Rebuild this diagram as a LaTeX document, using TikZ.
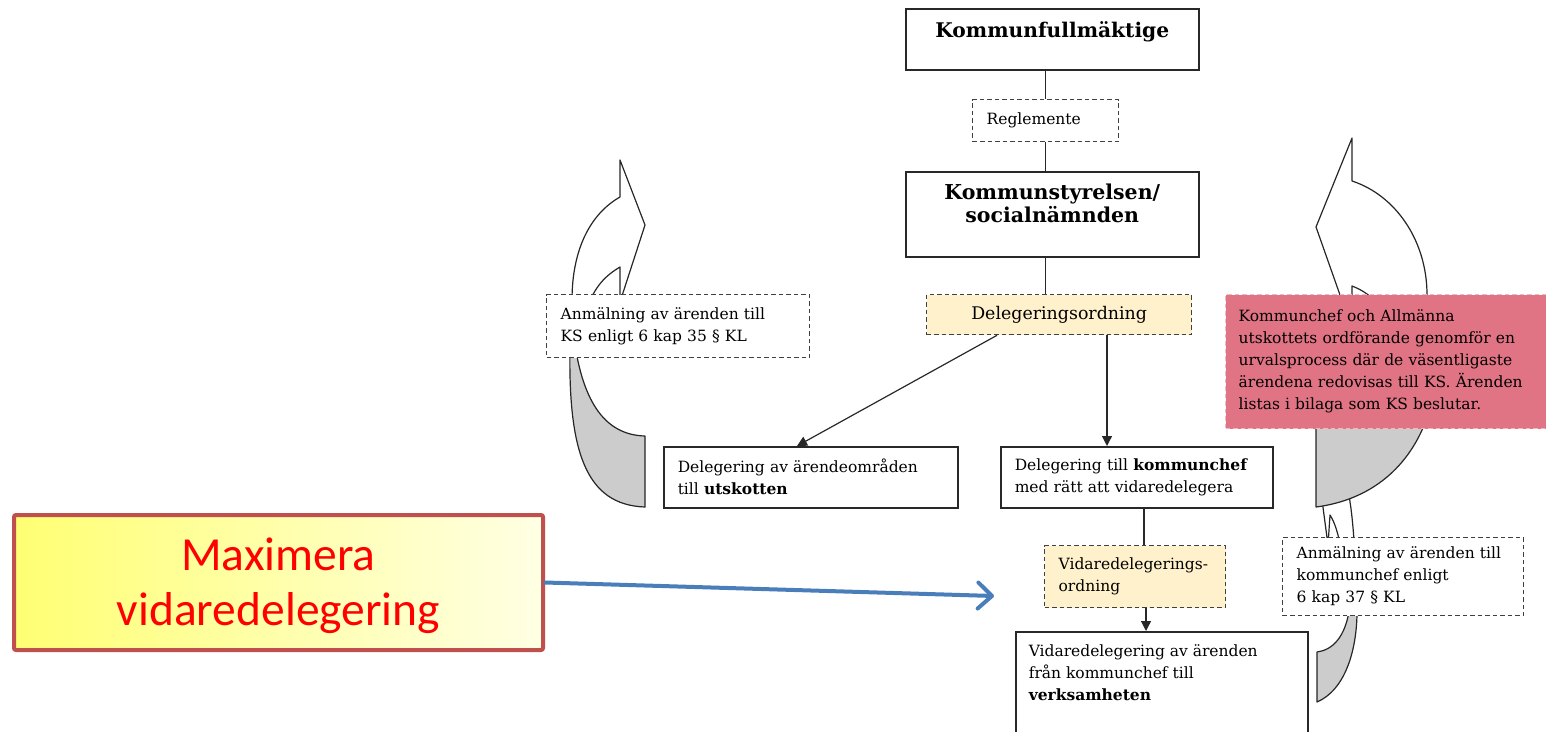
\documentclass[tikz,border=0pt]{standalone}
\usepackage{fontspec}
\setmainfont{DejaVu Serif}
\newfontfamily\calibfont{Carlito}
\usetikzlibrary{arrows.meta}

\definecolor{boxline}{RGB}{40,40,40}
\definecolor{ordfill}{RGB}{255,241,204}
\definecolor{pinkfill}{RGB}{224,116,132}
\definecolor{backgray}{RGB}{204,204,204}
\definecolor{arrowblue}{RGB}{74,126,187}
\definecolor{maxred}{RGB}{192,80,77}
\definecolor{maxyellow}{RGB}{255,255,115}
\definecolor{maxpale}{RGB}{255,255,228}

\begin{document}
\begin{tikzpicture}[x=1pt, y=-1pt,
	box/.style={draw=boxline, line width=1.5pt, fill=white, anchor=north west,
		font=\fontsize{15.5}{22}\selectfont, align=left, inner xsep=14pt, inner ysep=0pt},
	dashbox/.style={box, dashed, dash pattern=on 4.5pt off 3pt, draw=black!75, line width=1.3pt},
	ordbox/.style={dashbox, fill=ordfill},
	conn/.style={draw=boxline, line width=1.2pt},
	arr/.style={conn, -{Triangle[length=10pt,width=10pt]}},
	curl/.style={draw=black!85, line width=1.2pt, fill=white, line join=round},
	curlback/.style={curl, fill=backgray}
	]
	
	\useasboundingbox (0,0) rectangle (1546,731);
	\clip (0,0) rectangle (1546,731);
	
	% curved arrows behind the boxes
	\draw[curl] (1352,138) -- (1352,181) .. controls (1395,195) and (1427,240) .. (1427,295) -- (1427,340) -- (1395,340) .. controls (1385,310) and (1375,295) .. (1352,286) -- (1352,329) -- (1316,227) -- cycle;
	\draw[curl] (1345,460) -- (1350,502) .. controls (1353,520) and (1356,560) .. (1357,610) -- (1346,610) .. controls (1346,570) and (1340,530) .. (1330,515) -- (1328,545) -- (1318,470) -- cycle;
	\draw[curlback] (1316,415) -- (1316,507) .. controls (1370,500) and (1410,468) .. (1428,415) -- cycle;
	\draw[curlback] (1350,605) .. controls (1346,638) and (1332,650) .. (1317,652) -- (1317,702) .. controls (1345,690) and (1358,650) .. (1357,605) -- cycle;
	
	\draw[curl] (572,350) -- (572,300) .. controls (572,250) and (590,214) .. (620,197) -- (620,160) -- (645,225) -- (620,302) -- (620,267) .. controls (605,276) and (595,286) .. (586,310) -- (586,350) -- cycle;
	\draw[curlback] (570,345) .. controls (568,450) and (585,505) .. (645,507) -- (645,436) .. controls (610,435) and (585,410) .. (575,345) -- cycle;
	
	% boxes
	\node[box, inner xsep=0pt, inner ysep=13pt] (kf) at (905,8) {\parbox[c][35pt][t]{293pt}{\centering\fontsize{20.2}{23}\selectfont\bfseries Kommunfullmäktige}};
	\node[dashbox, text width=118pt, minimum height=42pt] (regl) at (972,99) {Reglemente};
	\node[box, inner xsep=0pt, inner ysep=12pt] (ks) at (905,171) {\parbox[c][61pt][t]{293pt}{\centering\fontsize{20.5}{23.5}\selectfont\bfseries Kommunstyrelsen/\\socialnämnden}};
	\node[ordbox, text width=237pt, minimum height=40pt, align=center, font=\fontsize{17.4}{22}\selectfont] (deleg) at (926,294) {Delegeringsordning};
	\node[dashbox, text width=235pt, minimum height=63pt] (anmks) at (546,294) {Anmälning av ärenden till\\KS enligt 6 kap 35 \S\ KL};
	\node[dashbox, fill=pinkfill, draw=pinkfill!50!white, text width=300pt, minimum height=134pt, inner xsep=13pt] (urval) at (1225,294) {Kommunchef och Allmänna\\utskottets ordförande genomför en\\urvalsprocess där de väsentligaste\\ärendena redovisas till KS. Ärenden\\listas i bilaga som KS beslutar.};
	\node[box, text width=266pt, minimum height=61pt] (utsk) at (663,446) {Delegering av ärendeområden\\till \textbf{utskotten}};
	\node[box, text width=244pt, minimum height=61pt] (kchef) at (1000,446) {Delegering till \textbf{kommunchef}\\med rätt att vidaredelegera};
	\node[ordbox, text width=153pt, minimum height=62pt] (vdo) at (1044,545) {Vidaredelegerings-\\ordning};
	\node[dashbox, text width=213pt, minimum height=78pt] (anmkc) at (1282,537) {Anmälning av ärenden till\\kommunchef enligt\\6 kap 37 \S\ KL};
	\node[box, inner xsep=13pt, inner ysep=13pt] (vid) at (1015,631) {\parbox[c][100pt][t]{266pt}{Vidaredelegering av ärenden\\från kommunchef till\\\textbf{verksamheten}}};
	
	\node[draw=maxred, line width=4pt, rounded corners=2pt, left color=maxyellow, right color=maxpale,
		minimum width=529pt, minimum height=135pt, anchor=north west, align=center, text=red,
		font=\calibfont\fontsize{47.5}{55}\selectfont] (max) at (12,513) {\raisebox{0pt}[\dimexpr\height+6pt][\depth]{Maximera}\\vidaredelegering};
	
	% connectors
	\draw[conn] (regl.north) -- (regl.north |- kf.south);
	\draw[conn] (regl.south) -- (regl.south |- ks.north);
	\draw[conn] (regl.south |- ks.south) -- (regl.south |- deleg.north);
	\draw[arr] ([xshift=71pt]deleg.south west) -- ([xshift=134pt]utsk.north west);
	\draw[arr] ([xshift=181pt]deleg.south west) -- ([xshift=181pt]deleg.south west |- kchef.north);
	\draw[conn] ([xshift=100pt]vdo.north west) -- ([xshift=100pt]vdo.north west |- kchef.south);
	\draw[arr] ([xshift=102pt]vdo.south west) -- ([xshift=102pt]vdo.south west |- vid.north);
	
	\coordinate (aim) at (994,596);
	\draw[draw=arrowblue, line width=4pt, line cap=round, -{Straight Barb[length=14pt,width=26pt,round]}] (max.east) -- (aim);
	
\end{tikzpicture}
\end{document}
